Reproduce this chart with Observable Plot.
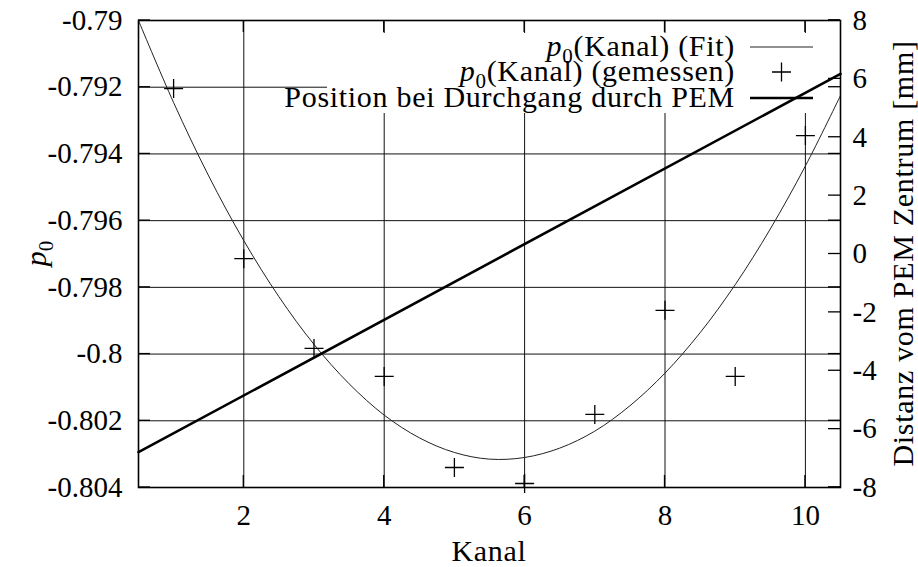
<!DOCTYPE html>
<html><head><meta charset="utf-8">
<script src="https://cdn.jsdelivr.net/npm/d3@7"></script>
<script src="https://cdn.jsdelivr.net/npm/@observablehq/plot@0.6"></script>
<style>
html,body{margin:0;padding:0;background:#fff;}
#chart{width:918px;height:567px;overflow:hidden;}
svg{display:block;}
svg text{font-family:"Liberation Serif","Times New Roman",serif;}
</style></head><body><div id="chart"></div>
<script>
// ---- data ----
const kanal = [1, 2, 3, 4, 5, 6, 7, 8, 9, 10];
const p0Gemessen = [-0.79204, -0.79714, -0.79983, -0.80067, -0.80340, -0.80388, -0.80181, -0.79869, -0.80067, -0.79345];
const fitKanal = [0.5, 1, 1.5, 2, 2.5, 3, 3.5, 4, 4.5, 5, 5.5, 6, 6.5, 7, 7.5, 8, 8.5, 9, 9.5, 10, 10.5];
const p0Fit = [-0.79000, -0.79246, -0.79466, -0.79660, -0.79828, -0.79971, -0.80089, -0.80183, -0.80251, -0.80295, -0.80315, -0.80310, -0.80282, -0.80231, -0.80155, -0.80057, -0.79936, -0.79792, -0.79625, -0.79436, -0.79225];
const positionKanal = [0.5, 10.5];
const positionMm = [-6.79, 6.17];
const xTicks = [2, 4, 6, 8, 10];
const yTicks = [-0.804, -0.802, -0.8, -0.798, -0.796, -0.794, -0.792, -0.79];
const y2Ticks = [-8, -6, -4, -2, 0, 2, 4, 6, 8];
const legendLabels = ["(Kanal) (Fit)", "(Kanal) (gemessen)", "Position bei Durchgang durch PEM"];
const xLabel = "Kanal";
const y2Label = "Distanz vom PEM Zentrum [mm]";

// ---- scales ----
const X_DOMAIN = [0.5, 10.5];
const Y_DOMAIN = [-0.804, -0.79];
const Y2_DOMAIN = [-8, 8];
const toY1 = v => Y_DOMAIN[0] + (v - Y2_DOMAIN[0]) / (Y2_DOMAIN[1] - Y2_DOMAIN[0]) * (Y_DOMAIN[1] - Y_DOMAIN[0]);
const fromY1 = v => Y2_DOMAIN[0] + (v - Y_DOMAIN[0]) / (Y_DOMAIN[1] - Y_DOMAIN[0]) * (Y2_DOMAIN[1] - Y2_DOMAIN[0]);

const measured = kanal.map((k, i) => ({k, p: p0Gemessen[i]}));
const fit = fitKanal.map((k, i) => ({k, p: p0Fit[i]}));
const position = positionKanal.map((k, i) => ({k, mm: positionMm[i]}));

const FONT = "Liberation Serif, Times New Roman, serif";
const FS = 29;      // tick labels
const FT = 30;      // words
const LS = "0.7px";

const plusSymbol = {
  draw(ctx, size) {
    const r = Math.sqrt(size / Math.PI);
    ctx.moveTo(-r, 0); ctx.lineTo(r, 0);
    ctx.moveTo(0, -r); ctx.lineTo(0, r);
  }
};

function legendBg(index, scales, values, dim) {
  const g = d3.create("svg:g");
  const right = dim.width - dim.marginRight;
  const top = dim.marginTop;
  g.append("rect").attr("x", right - 513).attr("y", top + 13)
    .attr("width", 513).attr("height", 80).attr("fill", "#fff");
  return g.node();
}

function p0Text(sel, size) {
  sel.append("tspan").attr("font-style", "italic").text("p");
  sel.append("tspan").style("font-size", (size * 0.7) + "px").attr("dy", size * 0.22).text("0");
}

function legendFg(index, scales, values, dim) {
  const g = d3.create("svg:g").style("font-size", FT + "px").attr("fill", "#000");
  const right = dim.width - dim.marginRight;
  const top = dim.marginTop;
  const rows = [top + 27, top + 52, top + 78];
  legendLabels.forEach((lab, i) => {
    const t = g.append("text").attr("x", right - 105).attr("y", rows[i] + 9)
      .attr("text-anchor", "end").style("letter-spacing", LS);
    if (i < 2) {
      p0Text(t, FT);
      t.append("tspan").attr("dy", -FT * 0.22).text(lab);
    } else {
      t.text(lab);
    }
  });
  const x1 = right - 90, x2 = right - 27;
  g.append("line").attr("x1", x1).attr("x2", x2).attr("y1", rows[0]).attr("y2", rows[0])
    .attr("stroke", "#222").attr("stroke-width", 1);
  const xm = (x1 + x2) / 2;
  g.append("path").attr("d", `M${xm - 9.5},${rows[1]}H${xm + 9.5}M${xm},${rows[1] - 9.5}V${rows[1] + 9.5}`)
    .attr("stroke", "#000").attr("stroke-width", 1.3).attr("fill", "none");
  g.append("line").attr("x1", x1).attr("x2", x2).attr("y1", rows[2]).attr("y2", rows[2])
    .attr("stroke", "#000").attr("stroke-width", 2.6);
  return g.node();
}

function ticksMark(index, scales, values, dim) {
  const g = d3.create("svg:g").attr("stroke", "#000").attr("stroke-width", 1.3);
  const L = dim.marginLeft, R = dim.width - dim.marginRight;
  const T = dim.marginTop, B = dim.height - dim.marginBottom;
  const len = 12;
  for (const v of xTicks) {
    const x = scales.x(v);
    g.append("line").attr("x1", x).attr("x2", x).attr("y1", B).attr("y2", B - len);
    g.append("line").attr("x1", x).attr("x2", x).attr("y1", T).attr("y2", T + len);
  }
  for (const v of yTicks) {
    const y = scales.y(v);
    g.append("line").attr("x1", L).attr("x2", L + len).attr("y1", y).attr("y2", y);
    g.append("line").attr("x1", R).attr("x2", R - len).attr("y1", y).attr("y2", y);
  }
  for (const v of y2Ticks) {
    const y = scales.y(toY1(v));
    g.append("line").attr("x1", R).attr("x2", R - len).attr("y1", y).attr("y2", y);
  }
  return g.node();
}

function axisLabels(index, scales, values, dim) {
  const g = d3.create("svg:g").style("font-size", FT + "px").attr("fill", "#000");
  const L = dim.marginLeft, R = dim.width - dim.marginRight;
  const T = dim.marginTop, B = dim.height - dim.marginBottom;
  const cx = (L + R) / 2, cy = (T + B) / 2;
  g.append("text").attr("x", cx).attr("y", B + 74).attr("text-anchor", "middle")
    .style("letter-spacing", LS).text(xLabel);
  const yl = g.append("text").attr("transform", `translate(${L - 92},${cy}) rotate(-90)`)
    .attr("text-anchor", "middle");
  p0Text(yl, FT);
  g.append("text").attr("transform", `translate(${R + 73},${cy}) rotate(-90)`)
    .attr("text-anchor", "middle").style("letter-spacing", LS).text(y2Label);
  return g.node();
}

const chart = Plot.plot({
  width: 918,
  height: 567,
  marginLeft: 138,
  marginRight: 78,
  marginTop: 20,
  marginBottom: 80,
  style: {fontFamily: FONT, fontSize: FS + "px", background: "#fff", color: "#000", overflow: "visible"},
  x: {domain: X_DOMAIN},
  y: {domain: Y_DOMAIN},
  marks: [
    Plot.ruleX(xTicks, {stroke: "#111", strokeWidth: 1}),
    Plot.ruleY(yTicks, {stroke: "#111", strokeWidth: 1}),
    legendBg,
    Plot.line(fit, {x: "k", y: "p", curve: "catmull-rom", stroke: "#222", strokeWidth: 1}),
    Plot.line(position, {x: "k", y: d => toY1(d.mm), stroke: "#000", strokeWidth: 2.6}),
    Plot.dot(measured, {x: "k", y: "p", symbol: plusSymbol, r: 9.5, stroke: "#000", fill: "none", strokeWidth: 1.3}),
    ticksMark,
    Plot.frame({stroke: "#000", strokeWidth: 1.6}),
    legendFg,
    Plot.axisX(xTicks, {tickSize: 0, tickPadding: 17, label: null, tickFormat: d => String(d)}),
    Plot.axisY(yTicks, {anchor: "left", tickSize: 0, tickPadding: 16, label: null, tickFormat: d => String(+d.toFixed(3))}),
    Plot.axisY(y2Ticks.map(toY1), {anchor: "right", tickSize: 0, tickPadding: 12, label: null, tickFormat: d => String(Math.round(fromY1(d)))}),
    axisLabels
  ]
});
document.getElementById("chart").appendChild(chart);
</script></body></html>
